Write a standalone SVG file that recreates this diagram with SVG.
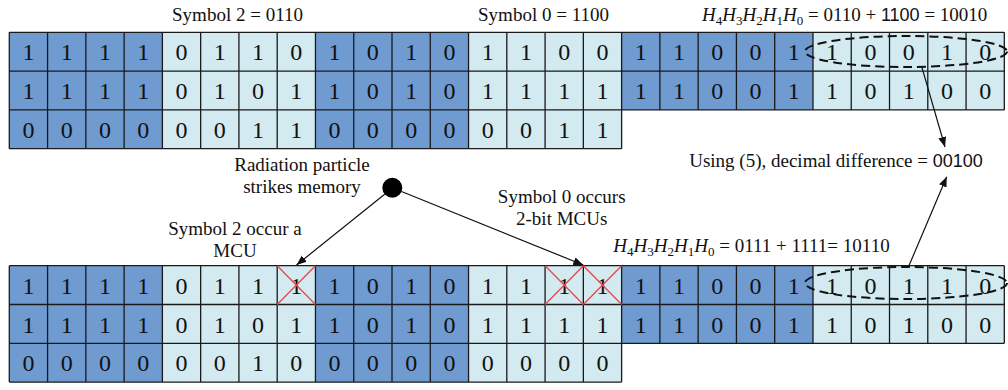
<svg xmlns="http://www.w3.org/2000/svg" width="1008" height="390" viewBox="0 0 1008 390">
<defs>
<style>
.d{fill:#6f9bd1}
.l{fill:#d3eaf0}
.grid{fill:none;stroke:#1a1a1a;stroke-width:1.3}
.dig{font-family:"Liberation Serif","Times New Roman",serif;font-size:24px;fill:#111;text-anchor:middle}
.lbl{font-family:"Liberation Serif","Times New Roman",serif;font-size:19px;fill:#111}
.c{text-anchor:middle}
.sans{font-family:"Liberation Sans",Arial,sans-serif}
.x{stroke:#e8474a;stroke-width:1.3;fill:none}
.ell{fill:none;stroke:#111;stroke-width:2;stroke-dasharray:9 5}
.con{stroke:#111;stroke-width:1.2;fill:none;marker-end:url(#ah)}
</style>
<marker id="ah" viewBox="0 0 10 10" refX="10" refY="5" markerWidth="10" markerHeight="10" markerUnits="userSpaceOnUse" orient="auto">
<path d="M0,1 L10,5 L0,9 Z" fill="#111"/>
</marker>
</defs>
<rect width="1008" height="390" fill="#fff"/>

<g id="memory-before">
<rect class="d" x="9.3" y="32.3" width="153.08" height="116.4"/>
<rect class="l" x="162.38" y="32.3" width="153.08" height="116.4"/>
<rect class="d" x="315.46" y="32.3" width="153.08" height="116.4"/>
<rect class="l" x="468.54" y="32.3" width="153.08" height="116.4"/>
<rect class="d" x="621.62" y="32.3" width="191.35" height="77.6"/>
<rect class="l" x="812.97" y="32.3" width="191.35" height="77.6"/>
<path class="grid" d="M9.3 32.3H1004.32M9.3 71.1H1004.32M9.3 109.9H1004.32M9.3 148.7H621.62
M9.3 32.3V148.7M47.57 32.3V148.7M85.84 32.3V148.7M124.11 32.3V148.7M162.38 32.3V148.7M200.65 32.3V148.7M238.92 32.3V148.7M277.19 32.3V148.7M315.46 32.3V148.7M353.73 32.3V148.7M392 32.3V148.7M430.27 32.3V148.7M468.54 32.3V148.7M506.81 32.3V148.7M545.08 32.3V148.7M583.35 32.3V148.7M621.62 32.3V148.7
M659.89 32.3V109.9M698.16 32.3V109.9M736.43 32.3V109.9M774.7 32.3V109.9M812.97 32.3V109.9M851.24 32.3V109.9M889.51 32.3V109.9M927.78 32.3V109.9M966.05 32.3V109.9M1004.32 32.3V109.9"/>
<text class="dig" y="60.3" x="28.44 66.71 104.98 143.25 181.52 219.79 258.06 296.33 334.6 372.87 411.14 449.41 487.68 525.95 564.22 602.49 640.76 679.03 717.3 755.57 793.84 832.11 870.38 908.65 946.92 985.19">11110110101011001100110010</text>
<text class="dig" y="99.1" x="28.44 66.71 104.98 143.25 181.52 219.79 258.06 296.33 334.6 372.87 411.14 449.41 487.68 525.95 564.22 602.49 640.76 679.03 717.3 755.57 793.84 832.11 870.38 908.65 946.92 985.19">11110101101011111100110100</text>
<text class="dig" y="137.9" x="28.44 66.71 104.98 143.25 181.52 219.79 258.06 296.33 334.6 372.87 411.14 449.41 487.68 525.95 564.22 602.49">0000001100000011</text>
</g>

<g id="memory-after">
<rect class="d" x="9.3" y="265.7" width="153.08" height="116.4"/>
<rect class="l" x="162.38" y="265.7" width="153.08" height="116.4"/>
<rect class="d" x="315.46" y="265.7" width="153.08" height="116.4"/>
<rect class="l" x="468.54" y="265.7" width="153.08" height="116.4"/>
<rect class="d" x="621.62" y="265.7" width="191.35" height="77.6"/>
<rect class="l" x="812.97" y="265.7" width="191.35" height="77.6"/>
<path class="grid" d="M9.3 265.7H1004.32M9.3 304.5H1004.32M9.3 343.3H1004.32M9.3 382.1H621.62
M9.3 265.7V382.1M47.57 265.7V382.1M85.84 265.7V382.1M124.11 265.7V382.1M162.38 265.7V382.1M200.65 265.7V382.1M238.92 265.7V382.1M277.19 265.7V382.1M315.46 265.7V382.1M353.73 265.7V382.1M392 265.7V382.1M430.27 265.7V382.1M468.54 265.7V382.1M506.81 265.7V382.1M545.08 265.7V382.1M583.35 265.7V382.1M621.62 265.7V382.1
M659.89 265.7V343.3M698.16 265.7V343.3M736.43 265.7V343.3M774.7 265.7V343.3M812.97 265.7V343.3M851.24 265.7V343.3M889.51 265.7V343.3M927.78 265.7V343.3M966.05 265.7V343.3M1004.32 265.7V343.3"/>
<text class="dig" y="293.7" x="28.44 66.71 104.98 143.25 181.52 219.79 258.06 296.33 334.6 372.87 411.14 449.41 487.68 525.95 564.22 602.49 640.76 679.03 717.3 755.57 793.84 832.11 870.38 908.65 946.92 985.19">11110111101011111100110110</text>
<text class="dig" y="332.5" x="28.44 66.71 104.98 143.25 181.52 219.79 258.06 296.33 334.6 372.87 411.14 449.41 487.68 525.95 564.22 602.49 640.76 679.03 717.3 755.57 793.84 832.11 870.38 908.65 946.92 985.19">11110101101011111100110100</text>
<text class="dig" y="371.3" x="28.44 66.71 104.98 143.25 181.52 219.79 258.06 296.33 334.6 372.87 411.14 449.41 487.68 525.95 564.22 602.49">0000001000000000</text>
<path class="x" d="M277.19 265.7L315.46 304.5M315.46 265.7L277.19 304.5M545.08 265.7L583.35 304.5M583.35 265.7L545.08 304.5M583.35 265.7L621.62 304.5M621.62 265.7L583.35 304.5"/>
</g>

<g id="ellipse-before"><ellipse class="ell" cx="906" cy="51.5" rx="101" ry="15.5"/></g>
<g id="ellipse-after"><ellipse class="ell" cx="906" cy="283" rx="101" ry="16"/></g>

<g id="particle"><circle cx="392.3" cy="187.7" r="10" fill="#000"/></g>

<g id="labels">
<text class="lbl c" x="237.5" y="21">Symbol 2 = 0110</text>
<text class="lbl c" x="543.5" y="21">Symbol 0 = 1100</text>
<text class="lbl" x="702" y="21"><tspan font-style="italic">H</tspan><tspan font-size="13" dy="4">4</tspan><tspan font-style="italic" dy="-4">H</tspan><tspan font-size="13" dy="4">3</tspan><tspan font-style="italic" dy="-4">H</tspan><tspan font-size="13" dy="4">2</tspan><tspan font-style="italic" dy="-4">H</tspan><tspan font-size="13" dy="4">1</tspan><tspan font-style="italic" dy="-4">H</tspan><tspan font-size="13" dy="4">0</tspan><tspan dy="-4"> = 0110 + </tspan><tspan class="sans" font-size="18">1100</tspan><tspan> = 10010</tspan></text>
<text class="lbl c" x="302" y="170.7">Radiation particle</text>
<text class="lbl c" x="302" y="193.3">strikes memory</text>
<text class="lbl c" x="836" y="167.3">Using (5), decimal difference = <tspan class="sans" font-size="18">00100</tspan></text>
<text class="lbl c" x="235" y="235">Symbol 2 occur a</text>
<text class="lbl c" x="235" y="256.7">MCU</text>
<text class="lbl c" x="561.7" y="202.7">Symbol 0 occurs</text>
<text class="lbl c" x="561.7" y="225">2-bit MCUs</text>
<text class="lbl" x="613.3" y="251.7"><tspan font-style="italic">H</tspan><tspan font-size="13" dy="4">4</tspan><tspan font-style="italic" dy="-4">H</tspan><tspan font-size="13" dy="4">3</tspan><tspan font-style="italic" dy="-4">H</tspan><tspan font-size="13" dy="4">2</tspan><tspan font-style="italic" dy="-4">H</tspan><tspan font-size="13" dy="4">1</tspan><tspan font-style="italic" dy="-4">H</tspan><tspan font-size="13" dy="4">0</tspan><tspan dy="-4"> = 0111 + 1111= 10110</tspan></text>
</g>

<g id="connectors">
<line class="con" x1="385" y1="194" x2="296.5" y2="265"/>
<line class="con" x1="401.5" y1="191.5" x2="583.3" y2="265"/>
<line class="con" x1="921.7" y1="66.7" x2="945" y2="147"/>
<line class="con" x1="908.3" y1="267.3" x2="946.7" y2="176.7"/>
</g>
</svg>
